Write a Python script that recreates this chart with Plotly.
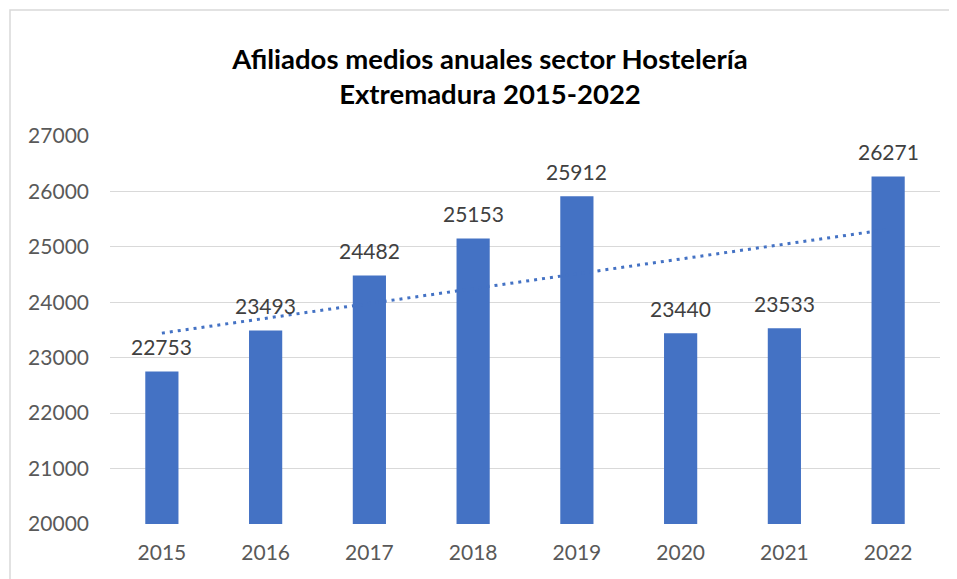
import numpy as np
import plotly.graph_objects as go

years = ["2015", "2016", "2017", "2018", "2019", "2020", "2021", "2022"]
afiliados = [22753, 23493, 24482, 25153, 25912, 23440, 23533, 26271]
y_ticks = [20000, 21000, 22000, 23000, 24000, 25000, 26000, 27000]

W, H = 957, 579
L, R, T, B = 102, 25, 128, 63
FONT = "Lato, Open Sans, sans-serif"

# linear trend (Excel-style) from data
xi = np.arange(1, len(afiliados) + 1)
slope, intercept = np.polyfit(xi, afiliados, 1)
trend = [float(slope * x + intercept) for x in xi]

fig = go.Figure()
fig.add_trace(go.Scatter(
    x=years, y=trend, mode="lines",
    line=dict(color="#4472C4", width=3, dash="3px,5px"),
    showlegend=False, hoverinfo="skip",
))
fig.add_trace(go.Bar(
    x=years, y=afiliados, width=0.32,
    marker=dict(color="#4472C4", line=dict(width=0)),
    showlegend=False,
))
for i, v in enumerate(afiliados):
    fig.add_annotation(x=i, y=v, text=str(v), showarrow=False,
                       yanchor="middle", yshift=25,
                       font=dict(family=FONT, size=21, color="#404040"))

pw = W - L - R
ph = H - T - B
fig.add_shape(type="rect", xref="paper", yref="paper",
              x0=(2 - L) / pw, x1=(W + 10 - L) / pw,
              y0=-(B + 10) / ph, y1=1 + (T - 2) / ph,
              line=dict(color="#d9d9d9", width=1.5), fillcolor="rgba(0,0,0,0)", layer="below")

fig.update_layout(
    width=W, height=H,
    margin=dict(l=L, r=R, t=T, b=B),
    paper_bgcolor="white", plot_bgcolor="white",
    title=dict(
        text="<b>Afiliados medios anuales sector Hostelería<br>Extremadura 2015-2022</b>",
        x=482 / W, xanchor="center", y=1 - 60.5 / H, yanchor="middle",
        font=dict(family=FONT, size=27.5, color="#000000"),
    ),
    xaxis=dict(
        type="category", range=[-0.5, len(years) - 0.5],
        showgrid=False, showline=False, zeroline=False, ticks="",
        ticklabelstandoff=14,
        tickfont=dict(family=FONT, size=21, color="#595959"),
    ),
    yaxis=dict(
        range=[20000, 27000], tickvals=y_ticks, ticktext=[str(v) for v in y_ticks],
        showgrid=True, gridcolor="#d9d9d9", gridwidth=1.3, zeroline=False, showline=False,
        ticks="", ticklen=0, ticklabelstandoff=20,
        tickfont=dict(family=FONT, size=21, color="#595959"),
    ),
)

fig.write_html("out.html")
